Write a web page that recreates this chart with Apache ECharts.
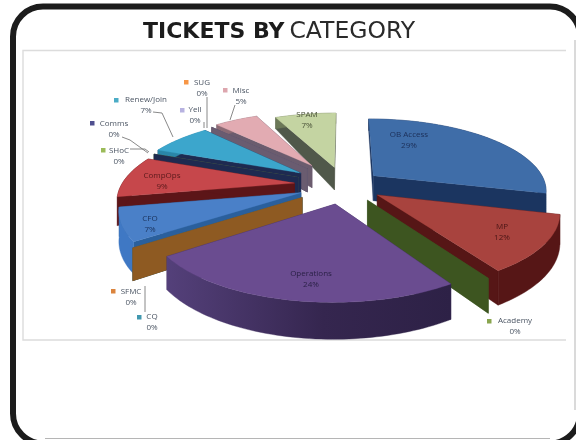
<!DOCTYPE html>
<html><head><meta charset="utf-8">
<style>html,body{margin:0;padding:0;background:#fff}#c{width:576px;height:440px;filter:blur(0.45px)}</style>
<script src="https://cdn.jsdelivr.net/npm/echarts@6/dist/echarts.min.js"></script>
</head><body><div id="c"></div>
<script>
// ---- data ----
var categories = ['OB Access','MP','Academy','Operations','CQ','SFMC','CFO','CompOps','SHoC','Comms','Renew/Join','Yell','SUG','Misc','SPAM'];
var values     = [29,12,0,24,0,0,7,9,0,0,7,0,0,5,7];
// ---- style ----
var topColors  = ['#3f6da8','#a8433e','#3f5a22','#6a4c90','#2f7f96','#8e5a22','#4a80c8','#c6474b','#6f8a3a','#2a3358','#3ca6cc','#7f7aa8','#6a5a6e','#e2abb2','#c4d4a2'];
var wallColors = ['#1b3560','#561616','#3d5520','#3a2a5c','#1f5f88','#8e5a22','#2a5f9c','#5c1518','#6f8a3a','#1e2a50','#1e2a50','#55557a','#6a5c70','#6b5c6e','#50584a'];
var arcColors  = ['#1b3560','#561616','#3d5520','#35264f','#1f5f88','#8e5a22','#3f78c4','#5c1518','#6f8a3a','#1e2a50','#2a86a8','#55557a','#6a5c70','#8a6a74','#6c7858'];
var keyColors  = ['#4572a7','#aa4643','#89a54e','#71588f','#4198af','#db843d','#4f81bd','#c0504d','#9bbb59','#4f4f8f','#4bacc6','#b7b2e0','#f79646','#dda6ae','#c3d69b'];
var explode    = [38,40,42,45,50,50,46,50,50,50,54,56,56,60,46];
var textColors = ['#1c2f58','#4a1616','#4b5563','#2b2147','#4b5563','#4b5563','#1c3560','#5a1a1c','#4b5563','#4b5563','#4b5563','#4b5563','#4b5563','#4b5563','#4a5238'];
var labelCenters = [[409,140],[502,232],[515,326],[311,279],[152,322],[131,297],[150,224],[162,181],[119,156],[114,129],[146,105],[195,115],[202,88],[241,96],[307,120]];
var keyAt = {2:[489,321],4:[139,317],5:[113,291],8:[103,150],9:[92,123],10:[116,100],11:[182,110],12:[186,82],13:[225,90]};
var leaders = [
 [[153,112],[162,113],[173,137]],
 [[122,137],[130,140],[148,153]],
 [[130,149],[145,149],[149,152]],
 [[207,97],[207,128]],
 [[204,122],[204,128]],
 [[235,105],[230,120]],
 [[145,286],[145,312]]
];
var CX=344, CY=185, R=173, K=0.41, D=900, H=28;

function project(X,Y){
  var s=D/(D-Y);
  return {x:CX+X*s, y:CY+Y*K*s, h:Y<0?H*Math.pow(s,4.5):H*s};
}
function rim(a,e,mid,r){
  var ex=Math.sin(mid)*e, ey=-Math.cos(mid)*e;
  return project(ex+Math.sin(a)*r, ey-Math.cos(a)*r);
}
var total=values.reduce(function(p,v){return p+v},0);
var cum=[],acc=0;
values.forEach(function(v){cum.push(acc);acc+=v;});
var order=values.map(function(v,i){return i;});
var depth=values.map(function(v,i){return -Math.cos((cum[i]+v/2)/total*2*Math.PI);});
order.sort(function(a,b){return depth[a]-depth[b]||a-b;});
var rank={};order.forEach(function(i,r){rank[i]=r;});

function wall(points,fill,z){
  var poly=points.map(function(p){return [p.x,p.y];}).concat(points.slice().reverse().map(function(p){return [p.x,p.y+p.h];}));
  return {type:'polygon',shape:{points:poly},style:{fill:fill,stroke:fill,lineWidth:0.4},z2:z};
}
function renderSlice(params,api){
  var i=params.dataIndex, v=api.value(0);
  var a0=cum[i]/total*2*Math.PI, a1=(cum[i]+v)/total*2*Math.PI, mid=(a0+a1)/2, e=explode[i];
  var apex=rim(0,e,mid,0), z=rank[i]*4+10, kids=[];
  var p0=rim(a0,e,mid,R), p1=rim(a1,e,mid,R);
  kids.push(wall([apex,p0],wallColors[i],z));
  kids.push(wall([apex,p1],wallColors[i],z));
  if(v>0){
    var arc=[],n=Math.max(4,Math.ceil((a1-a0)/0.025));
    for(var k=0;k<=n;k++) arc.push(rim(a0+(a1-a0)*k/n,e,mid,R));
    var fill=arcColors[i];
    if(categories[i]==='Operations') fill=new echarts.graphic.LinearGradient(0,0,1,0,[{offset:0,color:'#54407a'},{offset:0.55,color:'#35264f'},{offset:1,color:'#2d2146'}]);
    kids.push(wall(arc,fill,z+1));
    var poly=[[apex.x,apex.y]].concat(arc.map(function(p){return [p.x,p.y];}));
    kids.push({type:'polygon',shape:{points:poly},style:{fill:topColors[i],stroke:topColors[i],lineWidth:0.3},z2:z+2});
  }
  return {type:'group',children:kids};
}
function renderLabel(params,api){
  var i=params.dataIndex, c=labelCenters[i], kids=[];
  kids.push({type:'text',z2:200,style:{text:categories[i]+'\n'+api.value(0)+'%',x:c[0],y:c[1],align:'center',verticalAlign:'middle',
    font:'8px "Open Sans", "Liberation Sans", sans-serif',lineHeight:10.5,fill:textColors[i]}});
  if(keyAt[i]) kids.push({type:'rect',z2:200,shape:{x:keyAt[i][0]-2,y:keyAt[i][1]-2,width:4.5,height:4.5},style:{fill:keyColors[i]}});
  return {type:'group',children:kids};
}
var frame=[
 {type:'polyline',z:0,shape:{points:[[566,50.5],[23,50.5],[23,340],[566,340]]},style:{stroke:'#dcdcdc',lineWidth:1.4,fill:null}},
 {type:'rect',z:0,shape:{x:13,y:6.5,width:567,height:437,r:30},style:{stroke:'#1c1c1c',lineWidth:6,fill:null}},
 {type:'line',z:0,shape:{x1:575,y1:40,x2:575,y2:410},style:{stroke:'#b5b5b5',lineWidth:1}},
 {type:'line',z:0,shape:{x1:45,y1:438.5,x2:550,y2:438.5},style:{stroke:'#b5b5b5',lineWidth:1}}
].concat(leaders.map(function(pts){
  return {type:'polyline',z:5,shape:{points:pts},style:{stroke:'#6b6b6b',lineWidth:0.8,fill:null}};
}));
var chart=echarts.init(document.getElementById('c'),null,{renderer:'canvas',width:576,height:440});
chart.setOption({
  animation:false,backgroundColor:'#fff',
  title:{left:138,top:15,text:'{b|TICKETS BY} {n|CATEGORY}',textStyle:{rich:{
    b:{fontFamily:'DejaVu Sans',fontWeight:'bold',fontSize:22,color:'#1c1c1c'},
    n:{fontFamily:'DejaVu Sans',fontWeight:'normal',fontSize:23.5,color:'#2a2a2a'}}}},
  graphic:{elements:frame},
  series:[
   {type:'custom',coordinateSystem:'none',silent:true,z:2,renderItem:renderSlice,data:values.map(function(v){return [v];})},
   {type:'custom',coordinateSystem:'none',silent:true,z:8,renderItem:renderLabel,data:values.map(function(v){return [v];})}
  ]
});
</script></body></html>
